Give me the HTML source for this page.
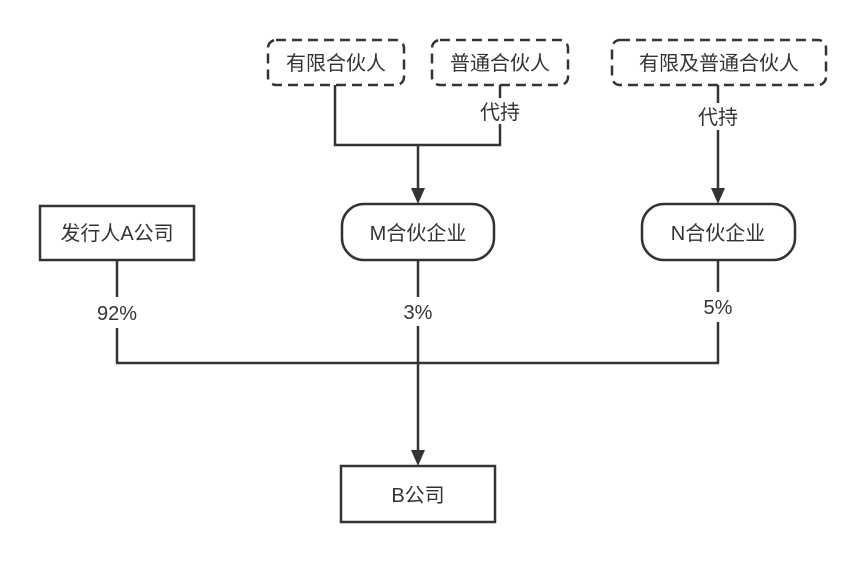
<!DOCTYPE html><html><head><meta charset="utf-8"><style>body{margin:0;background:#fff}</style></head><body>
<svg width="865" height="563" xmlns="http://www.w3.org/2000/svg" font-family="Liberation Sans, Noto Sans CJK SC, sans-serif" font-size="20" fill="#333">
<g fill="none" stroke="#333" stroke-width="2.5">
<rect x="268" y="40" width="136" height="45" rx="8" stroke-dasharray="10,6"/>
<rect x="432" y="40" width="136" height="45" rx="8" stroke-dasharray="10,6"/>
<rect x="612" y="40" width="214" height="45" rx="8" stroke-dasharray="10,6"/>
<polyline points="335,85 335,145 500,145 500,124"/>
<line x1="500" y1="85" x2="500" y2="98"/>
<line x1="418" y1="145" x2="418" y2="190"/>
<line x1="718" y1="85" x2="718" y2="103"/>
<line x1="718" y1="130" x2="718" y2="190"/>
<rect x="40" y="206" width="154" height="54"/>
<rect x="342" y="204" width="152" height="56" rx="22"/>
<rect x="642" y="204" width="153" height="56" rx="22"/>
<rect x="341" y="466" width="154" height="56"/>
<line x1="117" y1="260" x2="117" y2="297"/>
<line x1="117" y1="328" x2="117" y2="363"/>
<line x1="418" y1="260" x2="418" y2="297"/>
<line x1="418" y1="326" x2="418" y2="452"/>
<line x1="718" y1="260" x2="718" y2="292"/>
<line x1="718" y1="322" x2="718" y2="363"/>
<line x1="116" y1="363" x2="719" y2="363"/>
</g>
<polygon points="411,188 425,188 418,204" fill="#333"/>
<polygon points="711,188 725,188 718,204" fill="#333"/>
<polygon points="411,450 425,450 418,466" fill="#333"/>
<g text-anchor="middle">
<text x="336" y="70">有限合伙人</text>
<text x="500" y="70">普通合伙人</text>
<text x="719" y="70">有限及普通合伙人</text>
<text x="500" y="119">代持</text>
<text x="718" y="124">代持</text>
<text x="117" y="240">发行人A公司</text>
<text x="418" y="240">M合伙企业</text>
<text x="718" y="240">N合伙企业</text>
<text x="117" y="320">92%</text>
<text x="418" y="319">3%</text>
<text x="718" y="314">5%</text>
<text x="418" y="502">B公司</text>
</g>
</svg></body></html>
